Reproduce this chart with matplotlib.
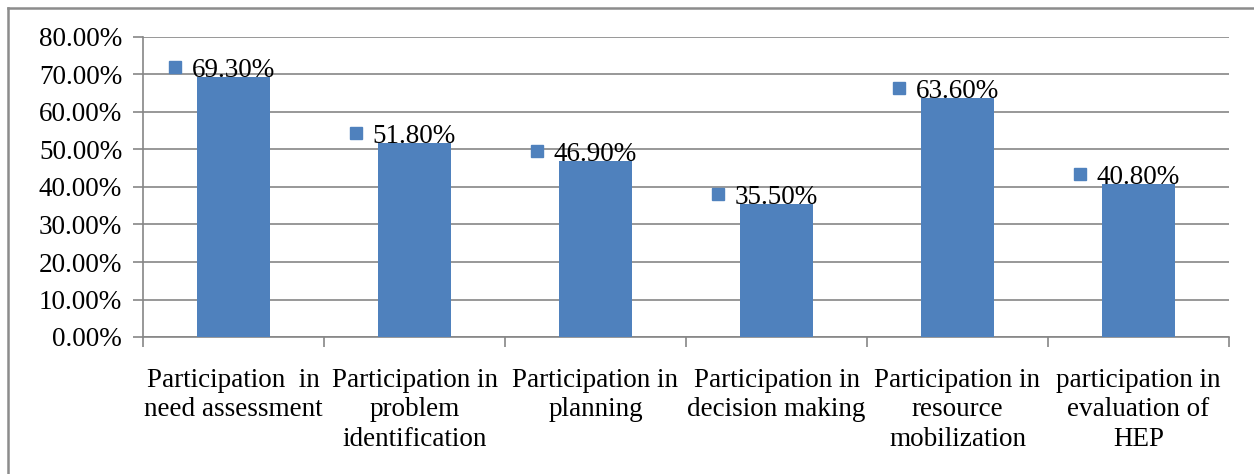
import matplotlib
matplotlib.use('Agg')
import matplotlib.pyplot as plt
import matplotlib.transforms as mtransforms
from matplotlib.lines import Line2D
import numpy as np

categories = [
    'Participation  in\nneed assessment',
    'Participation in\nproblem\nidentification',
    'Participation in\nplanning',
    'Participation in\ndecision making',
    'Participation in\nresource\nmobilization',
    'participation in\nevaluation of\nHEP',
]
values = [69.3, 51.8, 46.9, 35.5, 63.6, 40.8]
y_ticks = [0, 10, 20, 30, 40, 50, 60, 70, 80]

bar_color = '#4F81BD'
grid_color = '#868686'

plt.rcParams['font.family'] = ['Liberation Serif', 'DejaVu Serif']

fig = plt.figure(figsize=(12.54, 4.74), dpi=100)
ax = fig.add_axes([143 / 1254, 1 - 337 / 474, (1229 - 143) / 1254, 300 / 474])

x = np.arange(len(categories))
ax.bar(x, values, width=0.40, color=bar_color, zorder=3)

ax.set_xlim(-0.5, len(categories) - 0.5)
ax.set_ylim(0, 80)
ax.set_yticks(y_ticks)
ax.set_yticklabels([f'{v:.2f}%' for v in y_ticks], fontsize=19.5)
ax.yaxis.grid(True, color=grid_color, linewidth=1.2, zorder=0)

# category labels on major ticks, boundary marks on minor ticks
ax.set_xticks(x)
ax.set_xticklabels(categories, fontsize=19.5, linespacing=1.24)
ax.set_xticks(np.arange(-0.5, len(categories)), minor=True)
ax.tick_params(axis='x', which='major', length=0, pad=22)
ax.tick_params(axis='x', which='minor', length=7, width=1.2, color=grid_color)
ax.tick_params(axis='y', length=7, width=1.2, color=grid_color, pad=8)

for side in ['top', 'right']:
    ax.spines[side].set_visible(False)
for side in ['left', 'bottom']:
    ax.spines[side].set_color(grid_color)
    ax.spines[side].set_linewidth(1.2)

# data labels with a small legend-key square in front
for xi, v in zip(x, values):
    ax.text(xi, v, f'{v:.2f}%', ha='center', va='baseline', fontsize=19.5, zorder=5)
    tr = mtransforms.offset_copy(ax.transData, fig=fig, x=-59, y=10, units='dots')
    ax.plot([xi], [v], marker='s', markersize=9, color=bar_color,
            transform=tr, clip_on=False, zorder=5)

# chart area border (only left and top visible in the reference)
fig.add_artist(Line2D([8 / 1254, 8 / 1254], [0, 1 - 8 / 474], color='#8c8c8c',
                      linewidth=1.8, transform=fig.transFigure))
fig.add_artist(Line2D([8 / 1254, 1], [1 - 8 / 474, 1 - 8 / 474], color='#8c8c8c',
                      linewidth=1.8, transform=fig.transFigure))

plt.savefig('out.png', dpi=100)
plt.close()
